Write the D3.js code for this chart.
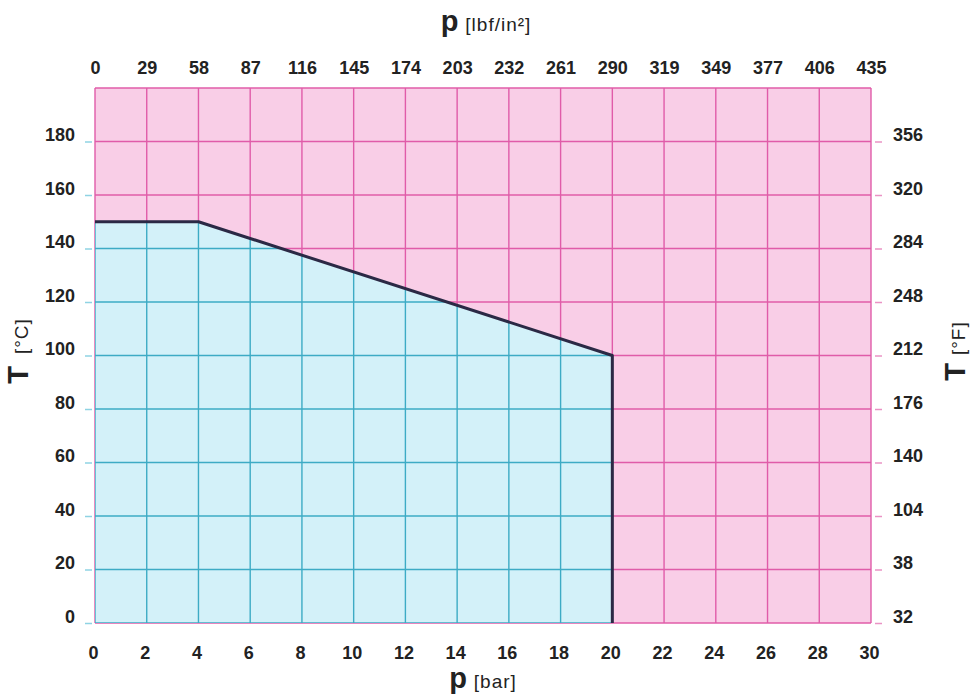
<!DOCTYPE html>
<html>
<head>
<meta charset="utf-8">
<script src="https://cdn.jsdelivr.net/npm/d3@7"></script>
<style>
  body { margin: 0; background: #fff; }
  text { font-family: "Liberation Sans", Arial, sans-serif; fill: #222; }
  .tick text { font-weight: bold; font-size: 18px; }
</style>
</head>
<body>
<div class="chart"></div>
<script>
// data
var barTicks = [0, 2, 4, 6, 8, 10, 12, 14, 16, 18, 20, 22, 24, 26, 28, 30];
var lbfLabels = ["0", "29", "58", "87", "116", "145", "174", "203", "232", "261", "290", "319", "349", "377", "406", "435"];
var celsiusTicks = [0, 20, 40, 60, 80, 100, 120, 140, 160, 180];
var fahrenheitLabels = ["32", "38", "104", "140", "176", "212", "248", "284", "320", "356"];
var gridCelsius = [0, 20, 40, 60, 80, 100, 120, 140, 160, 180, 200];
// limit curve (pressure in bar, temperature in degC)
var limitBar = [0, 4, 20, 20];
var limitCelsius = [150, 150, 100, 0];

var svgWidth = 972;
var svgHeight = 699;

var margin = { top: 88, right: 101, bottom: 76, left: 95 };
var chartWidth = svgWidth - margin.left - margin.right;
var chartHeight = svgHeight - margin.top - margin.bottom;

var pink = "#f9cee7", pinkLine = "#e05ca9";
var blue = "#d3f1f9", blueLine = "#3dabc5";

var svg = d3.select(".chart").append("svg")
    .attr("width", svgWidth)
    .attr("height", svgHeight);

var chartGroup = svg.append("g")
    .attr("transform", `translate(${margin.left}, ${margin.top})`);

var xScale = d3.scaleLinear().domain([0, 30]).range([0, chartWidth]);
var yScale = d3.scaleLinear().domain([0, 200]).range([chartHeight, 0]);

// limit polygon points
var limitPts = limitBar.map((b, i) => [xScale(b), yScale(limitCelsius[i])]);
var areaPts = [[xScale(0), yScale(0)]].concat(limitPts);

// pink background
chartGroup.append("rect")
    .attr("width", chartWidth)
    .attr("height", chartHeight)
    .attr("fill", pink);

function drawGrid(g, color) {
    g.selectAll(".v").data(barTicks).enter().append("line")
        .attr("x1", d => xScale(d)).attr("x2", d => xScale(d))
        .attr("y1", 0).attr("y2", chartHeight)
        .attr("stroke", color).attr("stroke-width", 1.4);
    g.selectAll(".h").data(gridCelsius).enter().append("line")
        .attr("x1", 0).attr("x2", chartWidth)
        .attr("y1", d => yScale(d)).attr("y2", d => yScale(d))
        .attr("stroke", color).attr("stroke-width", 1.4);
}

drawGrid(chartGroup.append("g"), pinkLine);

// blue permitted area
chartGroup.append("clipPath").attr("id", "okClip")
    .append("polygon")
    .attr("points", areaPts.map(p => p.join(",")).join(" "));

chartGroup.append("polygon")
    .attr("points", areaPts.map(p => p.join(",")).join(" "))
    .attr("fill", blue);

drawGrid(chartGroup.append("g").attr("clip-path", "url(#okClip)"), blueLine);

// limit line
chartGroup.append("path")
    .attr("d", d3.line()(limitPts))
    .attr("fill", "none")
    .attr("stroke", "#2b2945")
    .attr("stroke-width", 3)
    .attr("stroke-linejoin", "round");

// bottom axis (bar)
var bottomAxis = d3.axisBottom(xScale).tickValues(barTicks).tickSize(0).tickPadding(23);
chartGroup.append("g")
    .attr("transform", `translate(-2, ${chartHeight})`)
    .call(bottomAxis)
    .call(g => g.select(".domain").remove());

// top axis (lbf/in2)
var topAxis = d3.axisTop(xScale).tickValues(barTicks).tickSize(0).tickPadding(14)
    .tickFormat((d, i) => lbfLabels[i]);
chartGroup.append("g")
    .call(topAxis)
    .call(g => g.select(".domain").remove());

// left axis (degC)
var leftAxis = d3.axisLeft(yScale).tickValues(celsiusTicks).tickSize(7).tickPadding(10);
chartGroup.append("g")
    .attr("transform", "translate(-3, 0)")
    .call(leftAxis)
    .call(g => g.select(".domain").remove())
    .call(g => g.selectAll("line").attr("stroke", "#8fd3e3").attr("stroke-width", 1.5))
    .call(g => g.selectAll("text").attr("dy", "-0.05em"));

// right axis (degF)
var rightAxis = d3.axisRight(yScale).tickValues(celsiusTicks).tickSize(7).tickPadding(11)
    .tickFormat((d, i) => fahrenheitLabels[i]);
chartGroup.append("g")
    .attr("transform", `translate(${chartWidth + 4}, 0)`)
    .call(rightAxis)
    .call(g => g.select(".domain").remove())
    .call(g => g.selectAll("line").attr("stroke", "#ea93c4").attr("stroke-width", 1.5))
    .call(g => g.selectAll("text").attr("dy", "-0.05em"));

// axis titles
function unitTitle(x, y, letter, unit, rotate, gap) {
    var t = svg.append("text")
        .attr("transform", `translate(${x}, ${y})` + (rotate ? " rotate(-90)" : ""))
        .attr("text-anchor", "middle");
    t.append("tspan").text(letter)
        .attr("font-weight", "bold").attr("font-size", "29px");
    t.append("tspan").text(unit)
        .attr("dx", gap).attr("font-size", "19px")
        .attr("letter-spacing", "1px");
    return t;
}

unitTitle(486, 31, "p", "[lbf/in²]", false, 7);
unitTitle(483, 688, "p", "[bar]", false, 7);
unitTitle(28, 351, "T", "[°C]", true, 12);
unitTitle(965, 351, "T", "[°F]", true, 8);
</script>
</body>
</html>
